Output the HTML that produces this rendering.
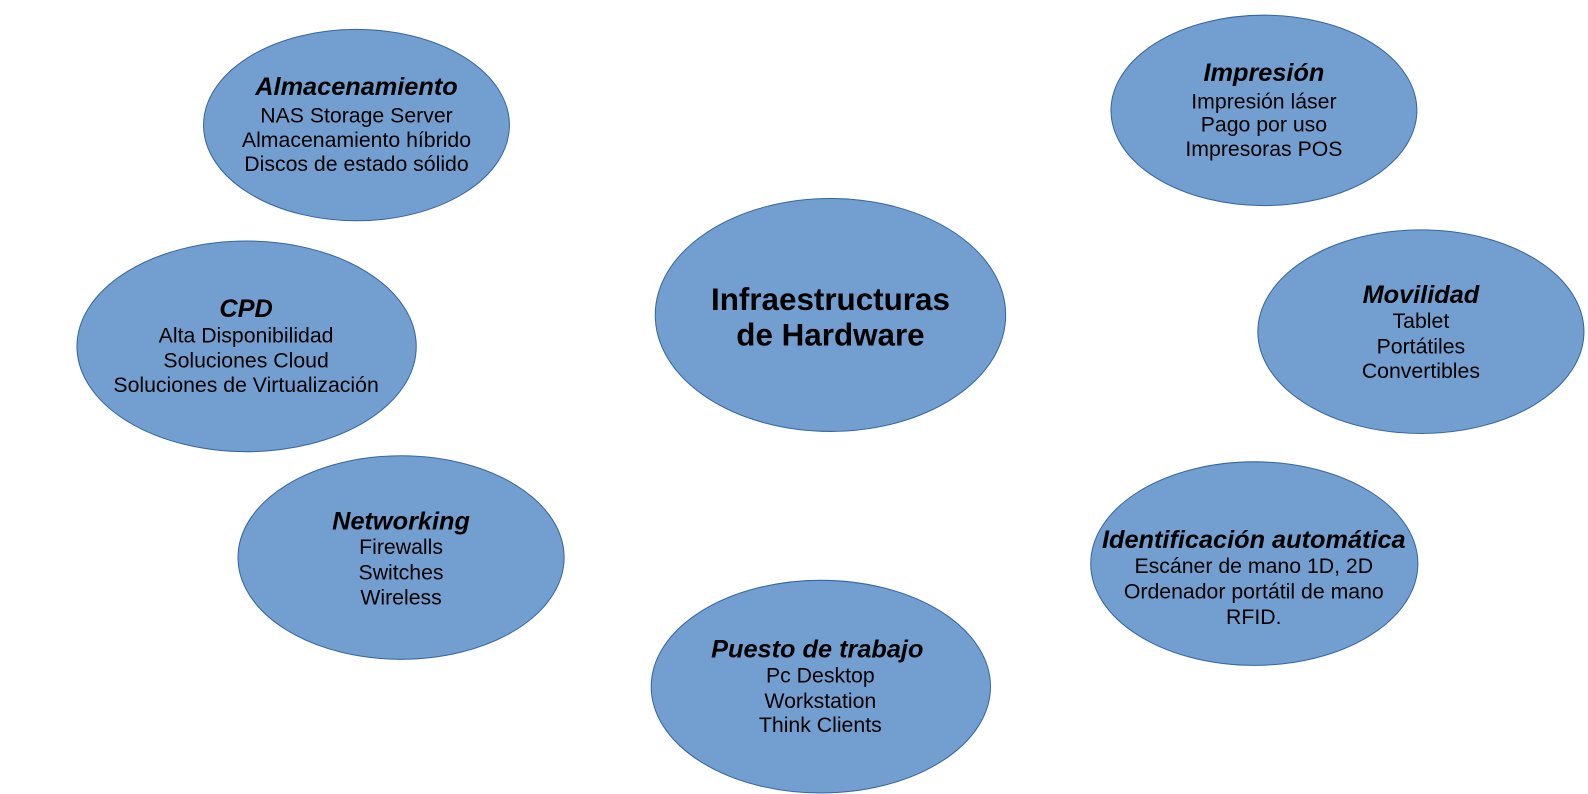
<!DOCTYPE html>
<html><head><meta charset="utf-8"><style>
html,body{margin:0;padding:0;background:#fff;}
svg{display:block;}
text{font-family:"Liberation Sans",Arial,sans-serif;text-anchor:middle;fill:#000;}
.h{font-size:25px;font-weight:bold;font-style:italic;}
.l{font-size:21px;}
.c{font-size:31px;font-weight:bold;}
ellipse{fill:#729fcf;stroke:#3465a4;stroke-width:1;}
</style></head><body>
<svg width="1588" height="794" viewBox="0 0 1588 794" xmlns="http://www.w3.org/2000/svg">
<g transform="scale(1.01276)">
<ellipse cx="352" cy="123.5" rx="151" ry="94.5"/>
<ellipse cx="243.5" cy="342" rx="167.5" ry="104"/>
<ellipse cx="396" cy="550.5" rx="161" ry="100.5"/>
<ellipse cx="820" cy="311" rx="173" ry="115"/>
<ellipse cx="810.5" cy="678" rx="167.5" ry="105"/>
<ellipse cx="1248" cy="109" rx="151" ry="94"/>
<ellipse cx="1403" cy="327.5" rx="161" ry="100.5"/>
<ellipse cx="1238.5" cy="556.5" rx="161.5" ry="100.5"/>

<text class="h" x="352" y="94">Almacenamiento</text>
<text class="l" x="352" y="121">NAS Storage Server</text>
<text class="l" x="352" y="145">Almacenamiento híbrido</text>
<text class="l" x="352" y="169">Discos de estado sólido</text>

<text class="h" x="243" y="313">CPD</text>
<text class="l" x="243" y="338">Alta Disponibilidad</text>
<text class="l" x="243" y="363">Soluciones Cloud</text>
<text class="l" x="243" y="387">Soluciones de Virtualización</text>

<text class="h" x="396" y="523">Networking</text>
<text class="l" x="396" y="547">Firewalls</text>
<text class="l" x="396" y="572">Switches</text>
<text class="l" x="396" y="597">Wireless</text>

<text class="c" x="820" y="306">Infraestructuras</text>
<text class="c" x="820" y="341">de Hardware</text>

<text class="h" x="807" y="649">Puesto de trabajo</text>
<text class="l" x="810" y="674">Pc Desktop</text>
<text class="l" x="810" y="699">Workstation</text>
<text class="l" x="810" y="723">Think Clients</text>

<text class="h" x="1248" y="80">Impresión</text>
<text class="l" x="1248" y="107">Impresión láser</text>
<text class="l" x="1248" y="130">Pago por uso</text>
<text class="l" x="1248" y="154">Impresoras POS</text>

<text class="h" x="1403" y="299">Movilidad</text>
<text class="l" x="1403" y="324">Tablet</text>
<text class="l" x="1403" y="349">Portátiles</text>
<text class="l" x="1403" y="373">Convertibles</text>

<text class="h" x="1238" y="541">Identificación automática</text>
<text class="l" x="1238" y="566">Escáner de mano 1D, 2D</text>
<text class="l" x="1238" y="591">Ordenador portátil de mano</text>
<text class="l" x="1238" y="616">RFID.</text>
</g>
</svg>
</body></html>
